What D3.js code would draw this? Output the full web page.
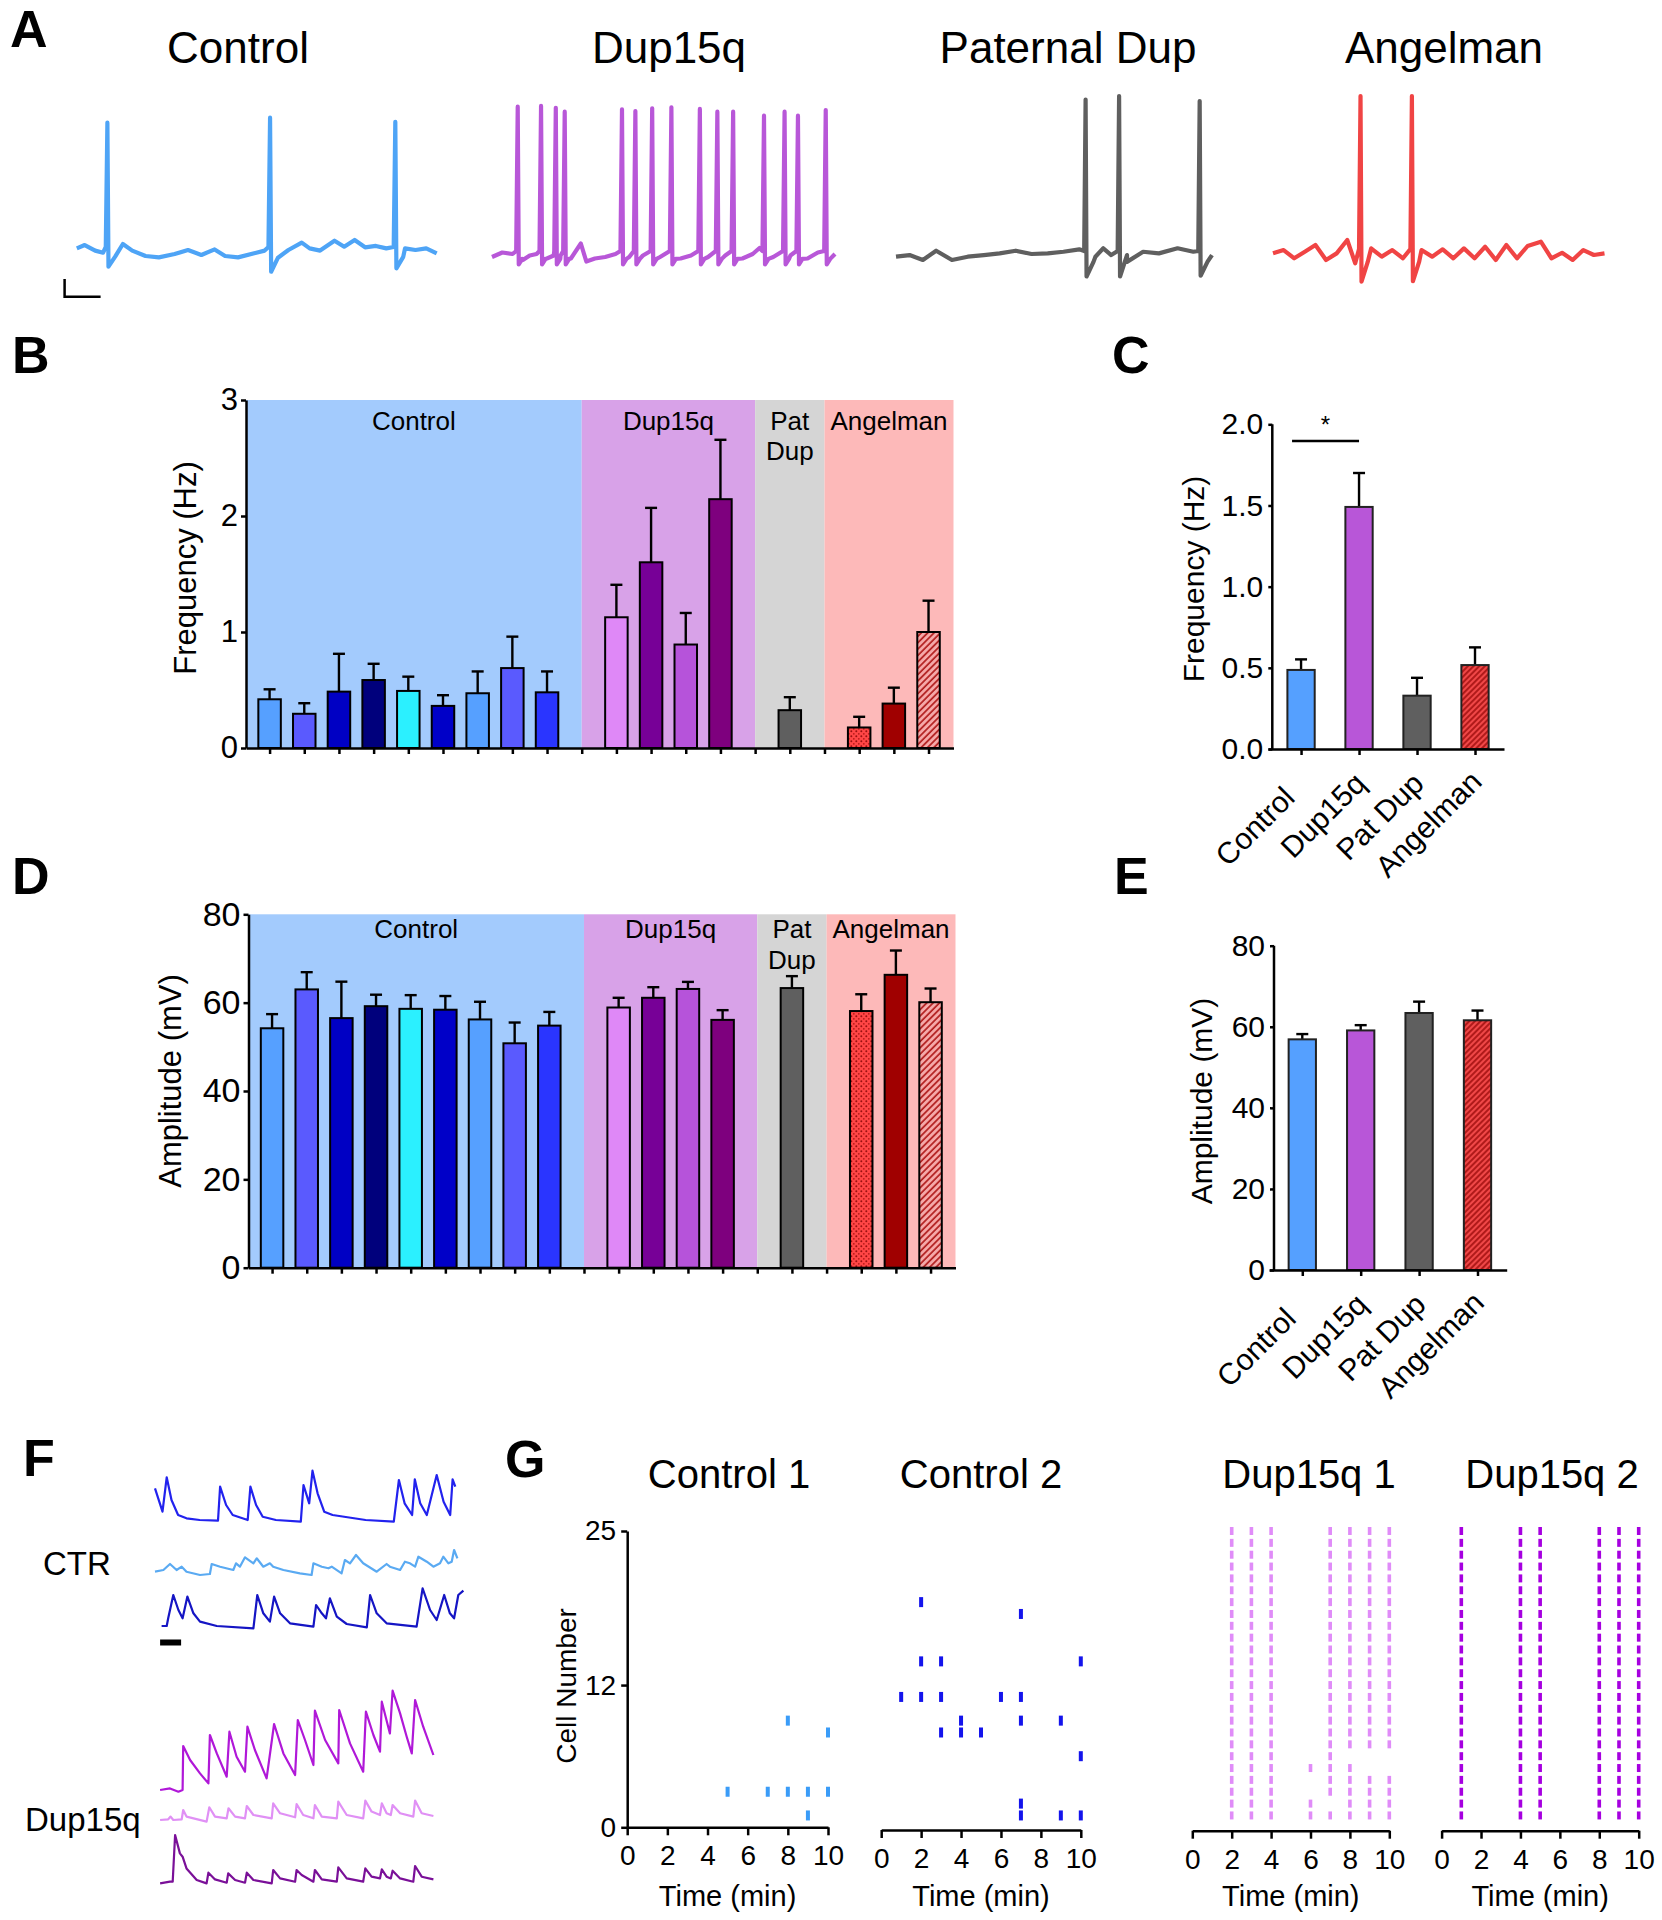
<!DOCTYPE html>
<html><head><meta charset="utf-8">
<script src="https://cdn.jsdelivr.net/npm/d3@7"></script>
<style>
body{margin:0;background:#fff}
svg{display:block}
text{font-family:"Liberation Sans",Arial,Helvetica,sans-serif;fill:#000}
</style></head>
<body><svg id="c" width="1662" height="1920"></svg>
<script>
// ---------------- DATA ----------------
const groupNames = ["Control","Dup15q","Pat Dup","Angelman"];
const traceTitles = ["Control","Dup15q","Paternal Dup","Angelman"];

// Panel A traces: baseline samples [t, mV rel] and spikes [t, peak, AHP]
const ctrlBase = [[0,3.1],[2.2,5.3],[5.1,1.6],[7.3,0.2],[10.3,-1.3],[12.8,6],[15.4,1.6],[19.1,-2],[22.8,-2.9],[27.2,-0.7],[30.9,2],[34.6,-1.3],[38.3,2.4],[41.2,-2],[44.8,-2.9],[49.3,-0.2],[52.2,1.6],[55.9,-0.7],[58.8,2],[62.5,6.9],[64.7,3.1],[67.6,1.6],[71.6,8.2],[74.3,4.2],[77.2,8.7],[80.1,3.8],[83.1,4.7],[86,3.1],[91.2,3.1],[94.1,2],[97.1,3.1],[100,-0.2]];
const ctrlSpikes = [[8.5,86.9,-9.1],[53.7,90.2,-12.5],[88.5,87.5,-10.2]];
const dupBase = [[0,0],[3,3],[6,2],[9,-2],[11,1],[13,2],[16,-1],[18,1],[20,1],[23,-1],[25.9,9],[27.5,-3],[30,-1],[33,0],[36,2],[40,0],[44,1],[49,0],[55,-1],[58,1],[63,0],[68,1],[73,-1],[76,2],[78,6],[82,0],[87,1],[92,-1],[95,3],[100,2]];
const dupSpikes = [[7.5,100.2,-5],[14.3,100.7,-5],[18.6,99.5,-5],[21.2,96.9,-5],[37.9,98.5,-5],[41.8,97.3,-5],[46.7,99.1,-5],[52.3,99.8,-5],[60.6,98.7,-5],[65.7,96.9,-5],[70.3,96.9,-5],[79.3,94.2,-5],[85.3,96.9,-5],[89.2,94.2,-5],[97.3,98,-5]];
const patBase = [[0,0.2],[4.3,1.3],[8.5,-2],[12.7,4.2],[17.7,-2],[22.7,0.2],[27.8,1.3],[32.8,2.4],[37.9,4.2],[42.9,2],[48,2.4],[53,3.5],[58,5.1],[63.1,0.2],[65.6,5.8],[68.1,1.3],[73.1,1.3],[78.2,3.5],[83.2,2.4],[89.1,5.8],[94.1,3.5],[98.3,-1.3],[100,1.3]];
const patSpikes = [[60,105,-13],[70.6,107.3,-13],[96.1,104,-12.5]];
const angBase = [[0,1.1],[3.2,3.3],[6.4,-2.2],[9.6,2.2],[12.8,6.7],[16,-3.3],[19.2,1.1],[22.4,10],[24.8,-5.5],[29.6,4.4],[32.8,-1.1],[36,3.3],[39.2,-2.2],[44.8,3.3],[48,-1.1],[51.2,3.8],[54.4,-2.2],[57.6,4.4],[60.8,-2.2],[64,5.5],[67.2,-3.3],[70.4,6.7],[73.6,-2.2],[76.8,6],[80.8,8.9],[84,-2.2],[87.2,1.5],[90.4,-3.3],[93.6,3.3],[96.8,0],[100,1.1]];
const angSpikes = [[26.4,106,-17.8],[41.9,106,-17.5]];

// Panels B / D: individual lines (slot index on axis, group index)
const lineSlot  = [0,1,2,3,4,5,6,7,8, 10,11,12,13, 15, 17,18,19];
const lineGroup = [0,0,0,0,0,0,0,0,0, 1,1,1,1, 2, 3,3,3];
const freqMean = [0.42,0.295,0.486,0.586,0.492,0.363,0.472,0.689,0.48, 1.127,1.601,0.892,2.145, 0.326, 0.177,0.383,1.0];
const freqSem  = [0.086,0.091,0.326,0.14,0.123,0.092,0.188,0.271,0.18, 0.28,0.469,0.272,0.512, 0.112, 0.092,0.137,0.27];
const ampMean  = [54.2,63.0,56.5,59.2,58.6,58.4,56.2,50.8,54.8, 58.9,61.1,63.1,56.1, 63.3, 58.1,66.3,60.1];
const ampSem   = [3.2,3.9,8.25,2.6,3.1,3.1,4.0,4.7,3.1, 2.2,2.4,1.6,2.2, 2.7, 3.8,5.5,3.1];
const bTicks = [0,1,2,3];
const dTicks = [0,20,40,60,80];

// Panels C / E: group means
const groupFreqMean = [0.487,1.491,0.3285,0.517];
const groupFreqSem  = [0.065,0.209,0.11,0.109];
const groupAmpMean  = [56.9,59.1,63.4,61.6];
const groupAmpSem   = [1.3,1.3,2.8,2.4];
const cTicks = [0,0.5,1.0,1.5,2.0];
const eTicks = [0,20,40,60,80];

// Panel F: calcium traces [t, dF]
const ctr1 = [[0,31.7],[2.5,8.3],[3.9,42.7],[5.5,20],[7.7,5],[10.5,1.7],[14.9,0],[21,-0.7],[21.7,33.3],[23.7,15],[25.9,5],[30.9,0],[31.8,33.3],[33.7,15],[35.9,3.3],[40.3,0],[48.6,-1.7],[49.5,35],[51.4,16.7],[52.5,49.3],[54.2,26.7],[56.4,8.3],[59.2,5],[70.2,0],[79.6,-1.7],[81.3,40],[83.2,16.7],[85.7,5],[86.6,40.7],[88.4,16.7],[90.6,5],[93.9,45],[96.2,18.3],[98.4,5],[99.2,40.7],[100.1,33.3]];
const ctr2 = [[0,3.3],[2.8,5],[5,11],[7.2,5],[8.9,8.3],[10.5,3.3],[15,0],[18.3,1],[18.9,11],[21.7,8.3],[26.1,5],[27,11.7],[28.3,8.3],[30,17.7],[32.8,11.7],[33.9,16.7],[36.1,8.3],[38.3,11.7],[39.4,8.3],[42.8,5],[48.3,1.7],[52.2,0],[52.8,11.7],[55.6,8.3],[57.8,6.7],[58.9,8.3],[62.2,1.7],[63.3,15],[65,11.7],[67,20],[69.4,11.7],[73.9,3.3],[77.2,11],[78.3,8.3],[81.7,5],[83.3,13.3],[85,11.7],[86.7,8.3],[87.8,18.3],[90.6,13.3],[92.8,8.3],[95,11.7],[96.1,18.3],[97.8,11.7],[98.9,13.3],[99.7,25],[100.8,16.7]];
const ctr3 = [[2.2,1.3],[3.9,1.3],[4.4,9],[6.1,32.3],[7.8,17.3],[9.2,9],[10.8,30.7],[12.8,14],[15,5.7],[20.6,1.3],[32.8,-1],[34.1,32.3],[36.1,14],[38.3,5.7],[39.7,30.7],[41.7,14],[45,4],[52.8,0.7],[53.7,22.3],[55.6,14],[57,9],[58.3,29],[60.6,10.7],[63.9,3.3],[70.6,0],[71.7,32.3],[73.9,14],[77.2,4],[87.2,0.7],[89.2,39],[91.7,17.3],[93.9,7.3],[96.4,32.3],[98.3,14],[99.7,9],[101.1,32.3],[102.8,36.7]];
const dup1 = [[1.7,0.7],[5,2.3],[7.8,-1],[9.2,0.7],[9.4,44.7],[11.7,30.7],[15,17.3],[17.8,7.3],[18.3,55.7],[20.6,37.3],[23.9,14],[24.8,59],[27.2,34],[30,19],[30.8,64],[33.3,40.7],[37.2,12.3],[39.7,66.7],[42.8,37.3],[46.7,15.7],[47.6,70.7],[50,50.7],[52.8,25.7],[53.3,80],[56.7,50.7],[61.1,27.3],[61.4,80.7],[65,47.3],[69.4,19],[70.3,79],[72.8,55.7],[75,39],[75.6,89],[78.3,57.3],[79.2,100],[81.7,77.3],[83.9,54],[85.6,37.3],[86.7,90.7],[89.4,64],[92.8,35.7]];
const dup2 = [[1.7,-0.7],[4.4,0],[5.2,2.7],[6.1,-0.7],[8.9,0],[9.4,9.3],[10.5,2.7],[17.2,-2.3],[18.1,12],[20,2.7],[23.9,1],[24.5,11],[26.7,2.7],[30,1],[30.6,13.3],[32.8,4.3],[38.9,1],[39.4,16],[41.7,6],[46.7,2],[47.2,15.3],[49.4,4.3],[52.8,1],[53.3,14.3],[55.6,2.7],[60.6,1],[61.1,17.7],[63.9,4.3],[69.4,1],[70.1,18.7],[72.2,7.7],[75,4.3],[75.6,16],[77.2,6],[78.6,4.3],[79.2,14.3],[81.7,6],[86.1,2.7],[86.7,18.7],[88.9,6],[92.8,3.3]];
const dup3 = [[1.7,-0.7],[5,1],[5.9,1],[6.7,47.7],[8.3,29.3],[9.2,26],[10.5,14.3],[13.9,2.7],[17.2,-0.7],[17.8,10],[20,3.3],[23.9,0],[24.4,9.3],[26.7,2.7],[30,0],[30.6,10],[32.8,2.7],[38.9,-0.7],[39.4,12.7],[41.7,4.3],[46.7,1],[47.2,12.7],[48.9,7.7],[52.8,1],[53.3,12.7],[55.6,3.3],[60.6,1],[61.1,15.3],[63.9,4.3],[69.4,1],[70.1,14.3],[72.2,6],[75,4.3],[75.6,13.3],[77.2,6],[78.6,4.3],[79.2,12],[81.7,4.3],[86.1,1],[86.7,16.7],[88.9,6],[92.8,3.3]];

// Panel G rasters: [time (min), cell]
const control1Events = [[5,3],[7,3],[8,3],[9,3],[10,3],[9,1],[8,9],[10,8]];
const control2Events = [[2,19],[7,18],[2,14],[3,14],[10,14],[1,11],[2,11],[3,11],[6,11],[7,11],[4,9],[7,9],[9,9],[3,8],[4,8],[5,8],[10,6],[7,2],[7,1],[9,1],[10,1]];
// Dup15q: [time, [[firstCell,lastCell],...]]
const dup15q1Cols = [[2,[[1,25]]],[3,[[1,25]]],[4,[[1,25]]],[6,[[1,2],[5,5]]],[7,[[1,1],[3,25]]],[8,[[1,5],[7,25]]],[9,[[1,4],[7,25]]],[10,[[1,4],[7,25]]]];
const dup15q2Cols = [[1,[[1,25]]],[4,[[1,25]]],[5,[[1,25]]],[8,[[1,25]]],[9,[[1,25]]],[10,[[1,25]]]];
const gTimeTicks = [0,2,4,6,8,10];
const gCellTicks = [0,12,25];
const rasterTitles = ["Control 1","Control 2","Dup15q 1","Dup15q 2"];

// ---------------- STYLES ----------------
const lineFill = ["#56a0ff","#5a5afe","#0000c4","#00007c","#2bf0ff","#0000c8","#56a0ff","#5a5afe","#2a35ff",
  "#df88f7","#770097","#b653da","#7e007e","#5f5f5f","url(#dots)","#a00000","url(#hatchL)"];
const groupFill = ["#55a0ff","#b856d8","#5f5f5f","url(#hatchD)"];
const bgFill = ["#a3cbfd","#d8a2e8","#d5d5d5","#fdb9b9"];
const traceColor = ["#4ea4f6","#b857d8","#5f5f5f","#f04444"];
const catLabelOffset = [[-12,43],[1,29],[1,29],[1,27]];
const FONT = '"Liberation Sans",Arial,Helvetica,sans-serif';

const svg = d3.select("#c");
const defs = svg.append("defs");
{
  const p = defs.append("pattern").attr("id","dots").attr("patternUnits","userSpaceOnUse").attr("width",5).attr("height",5);
  p.append("rect").attr("width",5).attr("height",5).attr("fill","#ff4646");
  p.append("circle").attr("cx",1.3).attr("cy",1.3).attr("r",1).attr("fill","#9a1010");
  p.append("circle").attr("cx",3.8).attr("cy",3.8).attr("r",0.9).attr("fill","#b81818");
  const h1 = defs.append("pattern").attr("id","hatchL").attr("patternUnits","userSpaceOnUse").attr("width",4.5).attr("height",4.5).attr("patternTransform","rotate(45)");
  h1.append("rect").attr("width",4.5).attr("height",4.5).attr("fill","#f6aaaa");
  h1.append("line").attr("x1",1).attr("x2",1).attr("y1",0).attr("y2",4.5).attr("stroke","#b01c1c").attr("stroke-width",1.7);
  const h2 = defs.append("pattern").attr("id","hatchD").attr("patternUnits","userSpaceOnUse").attr("width",4).attr("height",4).attr("patternTransform","rotate(45)");
  h2.append("rect").attr("width",4).attr("height",4).attr("fill","#f04848");
  h2.append("line").attr("x1",1).attr("x2",1).attr("y1",0).attr("y2",4).attr("stroke","#a00e0e").attr("stroke-width",1.6);
}

function panelLetter(t,x,y){ svg.append("text").attr("x",x).attr("y",y).attr("font-size",52).attr("font-weight","bold").text(t); }
function styleAxis(g, fs){
  g.selectAll(".domain").attr("stroke","#000").attr("stroke-width",2.5);
  g.selectAll(".tick line").attr("stroke","#000").attr("stroke-width",2.5);
  g.selectAll(".tick text").attr("font-size",fs).attr("font-family",FONT).attr("fill","#000");
}
function yTitle(t,x,y,fs){ svg.append("text").attr("transform",`translate(${x},${y}) rotate(-90)`).attr("text-anchor","middle").attr("font-size",fs).text(t); }

// ---------------- PANEL A ----------------
panelLetter("A",10,47);
const aTitleX = [238,669,1068,1444];
traceTitles.forEach((t,i)=>svg.append("text").attr("x",aTitleX[i]).attr("y",63).attr("text-anchor","middle").attr("font-size",44).text(t));
function buildTrace(base, spikes, rec){
  let pts = base.filter(p=>!spikes.some(s=>p[0]>s[0]-0.5 && p[0]<s[0]+rec));
  spikes.forEach(s=>{ pts.push([s[0]-0.45,4],[s[0],s[1]],[s[0]+0.3,s[2]],[s[0]+rec,s[2]*0.25]); });
  return pts.sort((a,b)=>a[0]-b[0]);
}
const aSets = [[ctrlBase,ctrlSpikes,2.2,[76.8,436.7],253],[dupBase,dupSpikes,1.3,[492,835],257],[patBase,patSpikes,2.5,[896,1212],257],[angBase,angSpikes,2.2,[1273,1604.5],255]];
aSets.forEach((s,i)=>{
  const x = d3.scaleLinear().domain([0,100]).range(s[3]);
  const y = d3.scaleLinear().domain([0,100]).range([s[4],s[4]-150]);
  const line = d3.line().x(d=>x(d[0])).y(d=>y(d[1]));
  svg.append("path").attr("d",line(buildTrace(s[0],s[1],s[2]))).attr("fill","none").attr("stroke",traceColor[i]).attr("stroke-width",4.2).attr("stroke-linejoin","round");
});
svg.append("path").attr("d","M64.6,279 V296.7 H100.6").attr("fill","none").attr("stroke","#000").attr("stroke-width",2.5);

// ---------------- PANELS B / D ----------------
function individualPanel(cfg){
  const x = d3.scaleLinear().domain([-0.68,19.72]).range(cfg.xr);
  const y = d3.scaleLinear().domain(cfg.yd).range(cfg.yr);
  const edges = [[-0.68,9],[9,14],[14,16],[16,19.72]];
  edges.forEach((e,i)=>svg.append("rect").attr("x",x(e[0])).attr("y",y(cfg.yd[1])).attr("width",x(e[1])-x(e[0])).attr("height",y(0)-y(cfg.yd[1])).attr("fill",bgFill[i]));
  const lbl = [["Control"],["Dup15q"],["Pat","Dup"],["Angelman"]];
  edges.forEach((e,i)=>lbl[i].forEach((t,j)=>svg.append("text").attr("x",(x(e[0])+x(e[1]))/2).attr("y",cfg.lblY+j*cfg.lh).attr("text-anchor","middle").attr("font-size",26).text(t)));
  const bw = 22.5;
  cfg.mean.forEach((m,i)=>{
    const cx = x(lineSlot[i]), top = y(m+cfg.sem[i]);
    svg.append("line").attr("x1",cx).attr("x2",cx).attr("y1",y(m)).attr("y2",top).attr("stroke","#000").attr("stroke-width",2.4);
    svg.append("line").attr("x1",cx-6).attr("x2",cx+6).attr("y1",top).attr("y2",top).attr("stroke","#000").attr("stroke-width",2.4);
    svg.append("rect").attr("x",cx-bw/2).attr("y",y(m)).attr("width",bw).attr("height",y(0)-y(m)).attr("fill",lineFill[i]).attr("stroke","#000").attr("stroke-width",2);
  });
  const gx = svg.append("g").attr("transform",`translate(0,${y(0)})`).call(d3.axisBottom(x).tickValues(d3.range(20)).tickFormat("").tickSize(6).tickSizeOuter(0));
  styleAxis(gx,28);
  const gy = svg.append("g").attr("transform",`translate(${cfg.xr[0]},0)`).call(d3.axisLeft(y).tickValues(cfg.ticks).tickFormat(d3.format("d")).tickSize(5).tickPadding(3).tickSizeOuter(0));
  styleAxis(gy,cfg.tfs);
  yTitle(cfg.title,cfg.tx,cfg.ty,31);
}
panelLetter("B",12,373);
individualPanel({xr:[246,953.5],yd:[0,3],yr:[748,400],mean:freqMean,sem:freqSem,ticks:bTicks,tfs:31,lblY:430,lh:30,title:"Frequency (Hz)",tx:196,ty:568});
panelLetter("D",12,894);
individualPanel({xr:[248.5,955.5],yd:[0,80],yr:[1267.7,914.3],mean:ampMean,sem:ampSem,ticks:dTicks,tfs:34,lblY:938,lh:31,title:"Amplitude (mV)",tx:181,ty:1081});

// ---------------- PANELS C / E ----------------
function groupPanel(cfg){
  const x = d3.scaleLinear().domain([-0.57,3.5]).range([cfg.ax0, cfg.ax1]);
  const y = d3.scaleLinear().domain(cfg.yd).range(cfg.yr);
  const bw = 27.3;
  cfg.mean.forEach((m,i)=>{
    const cx = x(i), top = y(m+cfg.sem[i]);
    svg.append("line").attr("x1",cx).attr("x2",cx).attr("y1",y(m)).attr("y2",top).attr("stroke","#000").attr("stroke-width",2.4);
    svg.append("line").attr("x1",cx-6).attr("x2",cx+6).attr("y1",top).attr("y2",top).attr("stroke","#000").attr("stroke-width",2.4);
    svg.append("rect").attr("x",cx-bw/2).attr("y",y(m)).attr("width",bw).attr("height",y(0)-y(m)).attr("fill",groupFill[i]).attr("stroke","#222").attr("stroke-width",2);
  });
  const gx = svg.append("g").attr("transform",`translate(0,${y(0)})`).call(d3.axisBottom(x).tickValues([0,1,2,3]).tickFormat("").tickSize(6).tickSizeOuter(0));
  styleAxis(gx,28);
  const gy = svg.append("g").attr("transform",`translate(${cfg.yax},0)`).call(d3.axisLeft(y).tickValues(cfg.ticks).tickFormat(cfg.fmt).tickSize(4).tickPadding(5).tickSizeOuter(0));
  styleAxis(gy,cfg.tfs);
  gy.select(".domain").attr("d",`M0,${cfg.yr[0]}V${cfg.yr[1]}`);
  groupNames.forEach((t,i)=>svg.append("text").attr("transform",`translate(${x(i)+catLabelOffset[i][0]},${y(0)+catLabelOffset[i][1]}) rotate(-45)`).attr("text-anchor","end").attr("dy","0.35em").attr("font-size",30).text(t));
  yTitle(cfg.title,cfg.tx,cfg.ty,30);
  return {x,y};
}
panelLetter("C",1112,373);
const cP = groupPanel({ax0:1268,ax1:1504,yax:1272.3,yd:[0,2],yr:[749,424.3],mean:groupFreqMean,sem:groupFreqSem,ticks:cTicks,tfs:30,fmt:d3.format(".1f"),title:"Frequency (Hz)",tx:1204,ty:579});
svg.append("line").attr("x1",cP.x(0)-9).attr("x2",cP.x(1)).attr("y1",441).attr("y2",441).attr("stroke","#000").attr("stroke-width",2.5);
svg.append("text").attr("x",(cP.x(0)-9+cP.x(1))/2).attr("y",433).attr("text-anchor","middle").attr("font-size",24).text("*");
panelLetter("E",1114,894);
groupPanel({ax0:1269,ax1:1506.7,yax:1274,yd:[0,80],yr:[1270,945.7],mean:groupAmpMean,sem:groupAmpSem,ticks:eTicks,tfs:30,fmt:d3.format("d"),title:"Amplitude (mV)",tx:1212,ty:1101});

// ---------------- PANEL F ----------------
panelLetter("F",23,1476);
const fX = d3.scaleLinear().domain([0,100]).range([155,455]);
const fSets = [[ctr1,1520,"#2222ee"],[ctr2,1575,"#5aaaf2"],[ctr3,1627.3,"#1515c4"],[dup1,1790.7,"#b018d8"],[dup2,1819.3,"#e090f5"],[dup3,1882.7,"#7a1098"]];
fSets.forEach(s=>{
  const y = d3.scaleLinear().domain([0,100]).range([s[1],s[1]-100]);
  svg.append("path").attr("d",d3.line().x(d=>fX(d[0])).y(d=>y(d[1]))(s[0])).attr("fill","none").attr("stroke",s[2]).attr("stroke-width",2.2).attr("stroke-linejoin","round");
});
svg.append("rect").attr("x",fX(1.7)).attr("y",1639.5).attr("width",fX(8.7)-fX(1.7)).attr("height",6).attr("fill","#000");
svg.append("text").attr("x",43).attr("y",1575).attr("font-size",33).text("CTR");
svg.append("text").attr("x",25).attr("y",1831).attr("font-size",33).text("Dup15q");

// ---------------- PANEL G ----------------
panelLetter("G",505,1477);
const gY = d3.scaleLinear().domain([0,25]).range([1827.3,1531]);
const gPanels = [[627.2,828,1827.3],[881.2,1080.8,1830],[1192.3,1389.3,1830.7],[1441.6,1638.7,1830.7]];
const gTitleX = [729,981,1309,1552];
const gScales = gPanels.map(p=>d3.scaleLinear().domain([0,10]).range([p[0],p[1]]));
gPanels.forEach((p,i)=>{
  const x = gScales[i];
  const ax = svg.append("g").attr("transform",`translate(0,${p[2]})`).call(d3.axisBottom(x).tickValues(gTimeTicks).tickSize(8).tickPadding(10).tickSizeOuter(0));
  styleAxis(ax,28);
  svg.append("text").attr("x",(p[0]+p[1])/2).attr("y",1906).attr("text-anchor","middle").attr("font-size",29).text("Time (min)");
  svg.append("text").attr("x",gTitleX[i]).attr("y",1488).attr("text-anchor","middle").attr("font-size",40).text(rasterTitles[i]);
});
{
  const ay = svg.append("g").attr("transform",`translate(${gPanels[0][0]},0)`).call(d3.axisLeft(gY).tickValues(gCellTicks).tickSize(6).tickPadding(5).tickSizeOuter(0));
  styleAxis(ay,28);
  yTitle("Cell Number",576,1686,28);
}
function rasterEvents(events, xs, color, w, h){
  events.forEach(e=>svg.append("rect").attr("x",xs(e[0])-w/2).attr("y",gY(e[1])-h/2).attr("width",w).attr("height",h).attr("fill",color));
}
rasterEvents(control1Events, gScales[0], "#3a9cf8", 4, 10);
rasterEvents(control2Events, gScales[1], "#1414ec", 4, 10);
function expandCols(cols){ const ev=[]; cols.forEach(c=>c[1].forEach(r=>{ for(let k=r[0];k<=r[1];k++) ev.push([c[0],k]); })); return ev; }
rasterEvents(expandCols(dup15q1Cols), gScales[2], "#e08cf8", 3.6, 8);
rasterEvents(expandCols(dup15q2Cols), gScales[3], "#a600e0", 3.6, 8);
</script>
</body></html>
